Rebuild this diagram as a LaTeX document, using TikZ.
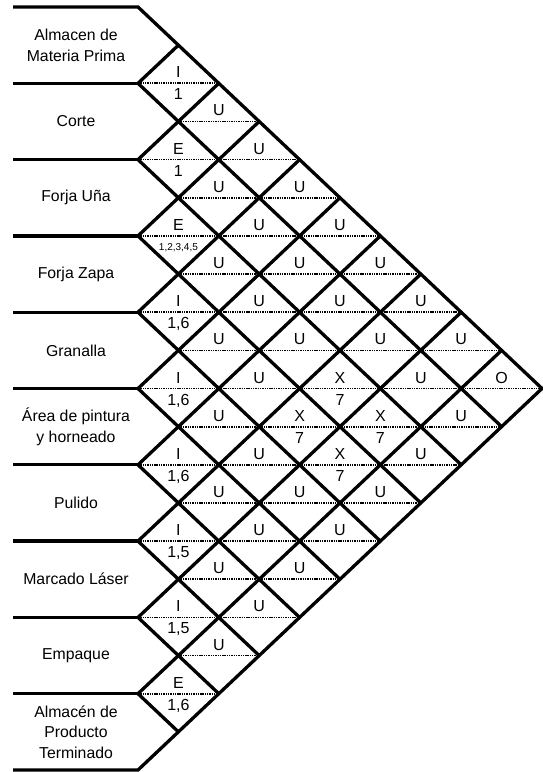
\documentclass[tikz,border=0pt]{standalone}
\usepackage{fontspec}
\setmainfont{Liberation Sans}
\begin{document}
\begin{tikzpicture}[x=1pt,y=-1pt,
  heavy/.style={line width=3.3pt, line join=miter},
  dotline/.style={line width=1.7pt, dash pattern=on 1.4pt off 0.9pt},
  dept/.style={align=center, inner sep=0pt, font=\fontsize{15.8}{20.5}\selectfont},
  rel/.style={anchor=base, inner sep=0pt, font=\fontsize{16}{18}\selectfont},
  reason/.style={anchor=base, inner sep=0pt, font=\fontsize{16}{18}\selectfont},
  small/.style={anchor=base, inner sep=0pt, font=\fontsize{10}{12}\selectfont}]
\def\W{40.4}
\def\H{38.15}
\def\X{138}
\def\Y{7}
\useasboundingbox (0,0) rectangle (543,772);
% coordinates
\foreach \k in {0,...,10}{
  \coordinate (L\k) at (\X, {\Y+2*\k*\H});
  \coordinate (E\k) at (13, {\Y+2*\k*\H});
  \coordinate (DR\k) at ({\X+(10-\k)*\W}, {\Y+(10+\k)*\H});
  \coordinate (UR\k) at ({\X+\k*\W}, {\Y+\k*\H});
}
% dotted middle lines
\foreach \m in {2,...,18}{
  \pgfmathsetmacro{\xl}{mod(\m,2)==0 ? \X : \X+\W}
  \pgfmathsetmacro{\xr}{\m<=10 ? \X+\m*\W : \X+(20-\m)*\W}
  \coordinate (ML\m) at (\xl, {\Y+\m*\H});
  \coordinate (MR\m) at (\xr, {\Y+\m*\H});
  \draw[dotline] (ML\m) -- (MR\m);
}
% heavy lines
\draw[heavy] (E0) -- (L0) -- (DR0) -- (L10) -- (E10);
\foreach \k in {1,...,9}{
  \draw[heavy] (E\k) -- (L\k);
  \draw[heavy] (L\k) -- (DR\k);
  \draw[heavy] (L\k) -- (UR\k);
}
% department names
\foreach \i/\t in {1/{Almacen de\\Materia Prima}, 2/Corte, 3/Forja Uña, 4/Forja Zapa,
  5/Granalla, 6/{Área de pintura\\y horneado}, 7/Pulido, 8/Marcado Láser, 9/Empaque,
  10/{Almacén de\\Producto\\Terminado}}{
  \node[dept] (d\i) at (76, {\Y+(2*\i-1)*\H}) {\t};
}
% relationship letters
\foreach \i/\j/\t in {1/2/I, 1/3/U, 2/3/E, 1/4/U, 2/4/U, 1/5/U, 3/4/E, 2/5/U, 1/6/U,
  3/5/U, 2/6/U, 1/7/U, 4/5/I, 3/6/U, 2/7/U, 1/8/U, 4/6/U, 3/7/U, 2/8/U, 1/9/U,
  5/6/I, 4/7/U, 3/8/X, 2/9/U, 1/10/O, 5/7/U, 4/8/X, 3/9/X, 2/10/U,
  6/7/I, 5/8/U, 4/9/X, 3/10/U, 6/8/U, 5/9/U, 4/10/U, 7/8/I, 6/9/U, 5/10/U,
  7/9/U, 6/10/U, 8/9/I, 7/10/U, 8/10/U, 9/10/E}{
  \node[rel] (u\i-\j) at ({\X+(\j-\i)*\W}, {\Y+(\i+\j-1)*\H-5.5}) {\t};
}
% reasons
\foreach \i/\j/\t in {1/2/1, 2/3/1, 4/5/{1,6}, 5/6/{1,6}, 3/8/7, 4/8/7, 3/9/7,
  6/7/{1,6}, 4/9/7, 7/8/{1,5}, 8/9/{1,5}, 9/10/{1,6}}{
  \node[reason] (r\i-\j) at ({\X+(\j-\i)*\W}, {\Y+(\i+\j-1)*\H+16.5}) {\t};
}
\node[small] (r3-4) at ({\X+\W}, {\Y+6*\H+15}) {1,2,3,4,5};
\end{tikzpicture}
\end{document}
